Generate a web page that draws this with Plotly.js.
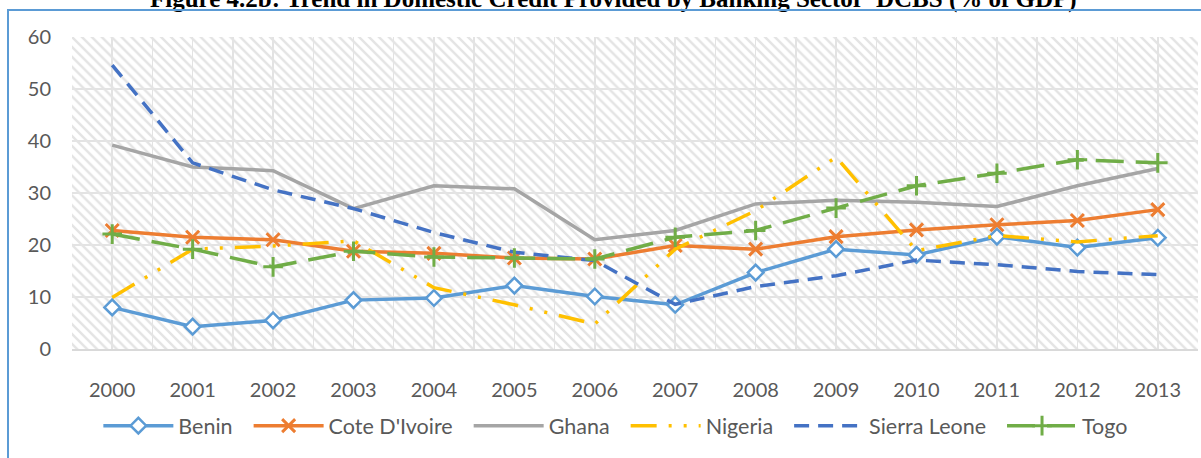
<!DOCTYPE html>
<html>
<head>
<meta charset="utf-8">
<script src="https://cdn.plot.ly/plotly-3.0.1.min.js"></script>
<style>
  html, body { margin: 0; padding: 0; background: #fff; }
  #wrap { position: relative; width: 1201px; height: 458px; overflow: hidden; }
  #chart { position: absolute; left: 0; top: 0; width: 1201px; height: 458px; }
  #frame { position: absolute; left: 7px; top: 9px; width: 1210px; height: 470px;
           border-top: 2px solid #5B9BD5; border-left: 2px solid #5B9BD5; pointer-events: none; }
</style>
</head>
<body>
<div id="wrap">
  <div id="chart"></div>
  <div id="frame"></div>
</div>
<script>
const years = [2000, 2001, 2002, 2003, 2004, 2005, 2006, 2007, 2008, 2009, 2010, 2011, 2012, 2013];
const yearLabels = years.map(String);

const benin        = [8.0, 4.3, 5.5, 9.4, 9.8, 12.2, 10.1, 8.5, 14.7, 19.2, 18.1, 21.6, 19.5, 21.4];
const coteDIvoire  = [22.8, 21.5, 21.0, 18.8, 18.4, 17.5, 17.3, 19.9, 19.2, 21.6, 22.9, 23.9, 24.7, 26.8];
const ghana        = [39.2, 35.0, 34.3, 27.0, 31.4, 30.8, 21.0, 22.8, 27.9, 28.6, 28.2, 27.4, 31.4, 34.7];
const nigeria      = [9.9, 19.2, 19.8, 20.8, 11.8, 8.5, 4.8, 19.2, 26.6, 36.9, 18.9, 21.8, 20.6, 21.8];
const sierraLeone  = [54.6, 35.8, 30.6, 27.0, 22.4, 18.6, 17.0, 8.6, 12.0, 14.1, 17.1, 16.2, 14.9, 14.3];
const togo         = [22.1, 19.2, 15.8, 18.8, 17.7, 17.5, 17.3, 21.5, 22.8, 27.1, 31.4, 33.8, 36.4, 35.8];

const seriesNames = ['Benin', "Cote D'Ivoire", 'Ghana', 'Nigeria', 'Sierra Leone', 'Togo'];
const yTicks = [0, 10, 20, 30, 40, 50, 60];
const titleText = "Figure 4.2b: Trend in Domestic Credit Provided by Banking Sector  DCBS (% of GDP)";

const xMin = years[0] - 0.5, xMax = years[years.length - 1] + 0.5;
const yMax = yTicks[yTicks.length - 1];
const pad = '\u00a0\u00a0';  // spacing after legend labels

const traces = [
  { // hatched plot-area background
    type: 'bar', x: [(xMin + xMax) / 2], y: [yMax], width: [xMax - xMin],
    marker: { color: 'rgba(0,0,0,0)', line: { width: 0 },
              pattern: { shape: '\\', fgcolor: '#e4e4e4', bgcolor: 'rgba(0,0,0,0)', size: 7, solidity: 0.35 } },
    showlegend: false, hoverinfo: 'skip'
  },
  { name: seriesNames[0] + pad, x: years, y: benin, type: 'scatter', mode: 'lines+markers',
    line: { color: '#5B9BD5', width: 3.5 },
    marker: { symbol: 'diamond', size: 12, color: '#ffffff', line: { width: 2.5, color: '#5B9BD5' } } },
  { name: seriesNames[1] + pad, x: years, y: coteDIvoire, type: 'scatter', mode: 'lines+markers',
    line: { color: '#ED7D31', width: 3.5 },
    marker: { symbol: 'x-thin-open', size: 13, color: '#ED7D31', line: { width: 3, color: '#ED7D31' } } },
  { name: seriesNames[2] + pad, x: years, y: ghana, type: 'scatter', mode: 'lines',
    line: { color: '#A5A5A5', width: 3.5 } },
  { name: seriesNames[3] + pad, x: years, y: nigeria, type: 'scatter', mode: 'lines',
    line: { color: '#FFC000', width: 3.5, dash: '26px,12px,3px,12px,3px,12px' } },
  { name: seriesNames[4] + pad, x: years, y: sierraLeone, type: 'scatter', mode: 'lines',
    line: { color: '#4472C4', width: 3.5, dash: '15px,9px' } },
  { name: seriesNames[5], x: years, y: togo, type: 'scatter', mode: 'lines+markers',
    line: { color: '#70AD47', width: 3.5, dash: '28px,12px' },
    marker: { symbol: 'cross-thin-open', size: 14, color: '#70AD47', line: { width: 3, color: '#70AD47' } } }
];

const layout = {
  width: 1201, height: 458,
  margin: { l: 72, r: 3, t: 37, b: 109 },
  paper_bgcolor: 'rgba(0,0,0,0)', plot_bgcolor: '#ffffff',
  font: { family: 'Lato, "Open Sans", sans-serif', size: 20, color: '#595959' },
  showlegend: true,
  legend: { orientation: 'h', x: 0.483, xanchor: 'center', y: -0.18, yanchor: 'top',
            font: { size: 21.5, color: '#595959' }, itemwidth: 70, traceorder: 'normal',
            bgcolor: 'rgba(0,0,0,0)' },
  xaxis: {
    type: 'linear', range: [xMin, xMax], tickmode: 'array', tickvals: years, ticktext: yearLabels,
    showgrid: true, gridcolor: '#e3e3e3', gridwidth: 1.5,
    minor: { tick0: xMin, dtick: 1, showgrid: true, gridcolor: '#e3e3e3', gridwidth: 1.5 },
    showline: true, linecolor: '#d9d9d9', linewidth: 2, zeroline: false,
    ticks: '', ticklabelstandoff: 22, fixedrange: true
  },
  yaxis: {
    range: [0, yMax], tickmode: 'array', tickvals: yTicks, ticktext: yTicks.map(String),
    showgrid: true, gridcolor: '#e3e3e3', gridwidth: 1.5, zeroline: false,
    showline: false, ticks: '', ticklabelstandoff: 20, fixedrange: true
  },
  barmode: 'overlay',
  annotations: [{
    text: '<b>' + titleText + '</b>', xref: 'paper', yref: 'paper',
    x: 0.481, y: 1 + 38 / 311, xanchor: 'center', yanchor: 'middle', showarrow: false,
    font: { family: '"Liberation Serif", "Times New Roman", serif', size: 25, color: '#000000' }
  }]
};

Plotly.newPlot('chart', traces, layout, { displayModeBar: false, staticPlot: true });
</script>
</body>
</html>
